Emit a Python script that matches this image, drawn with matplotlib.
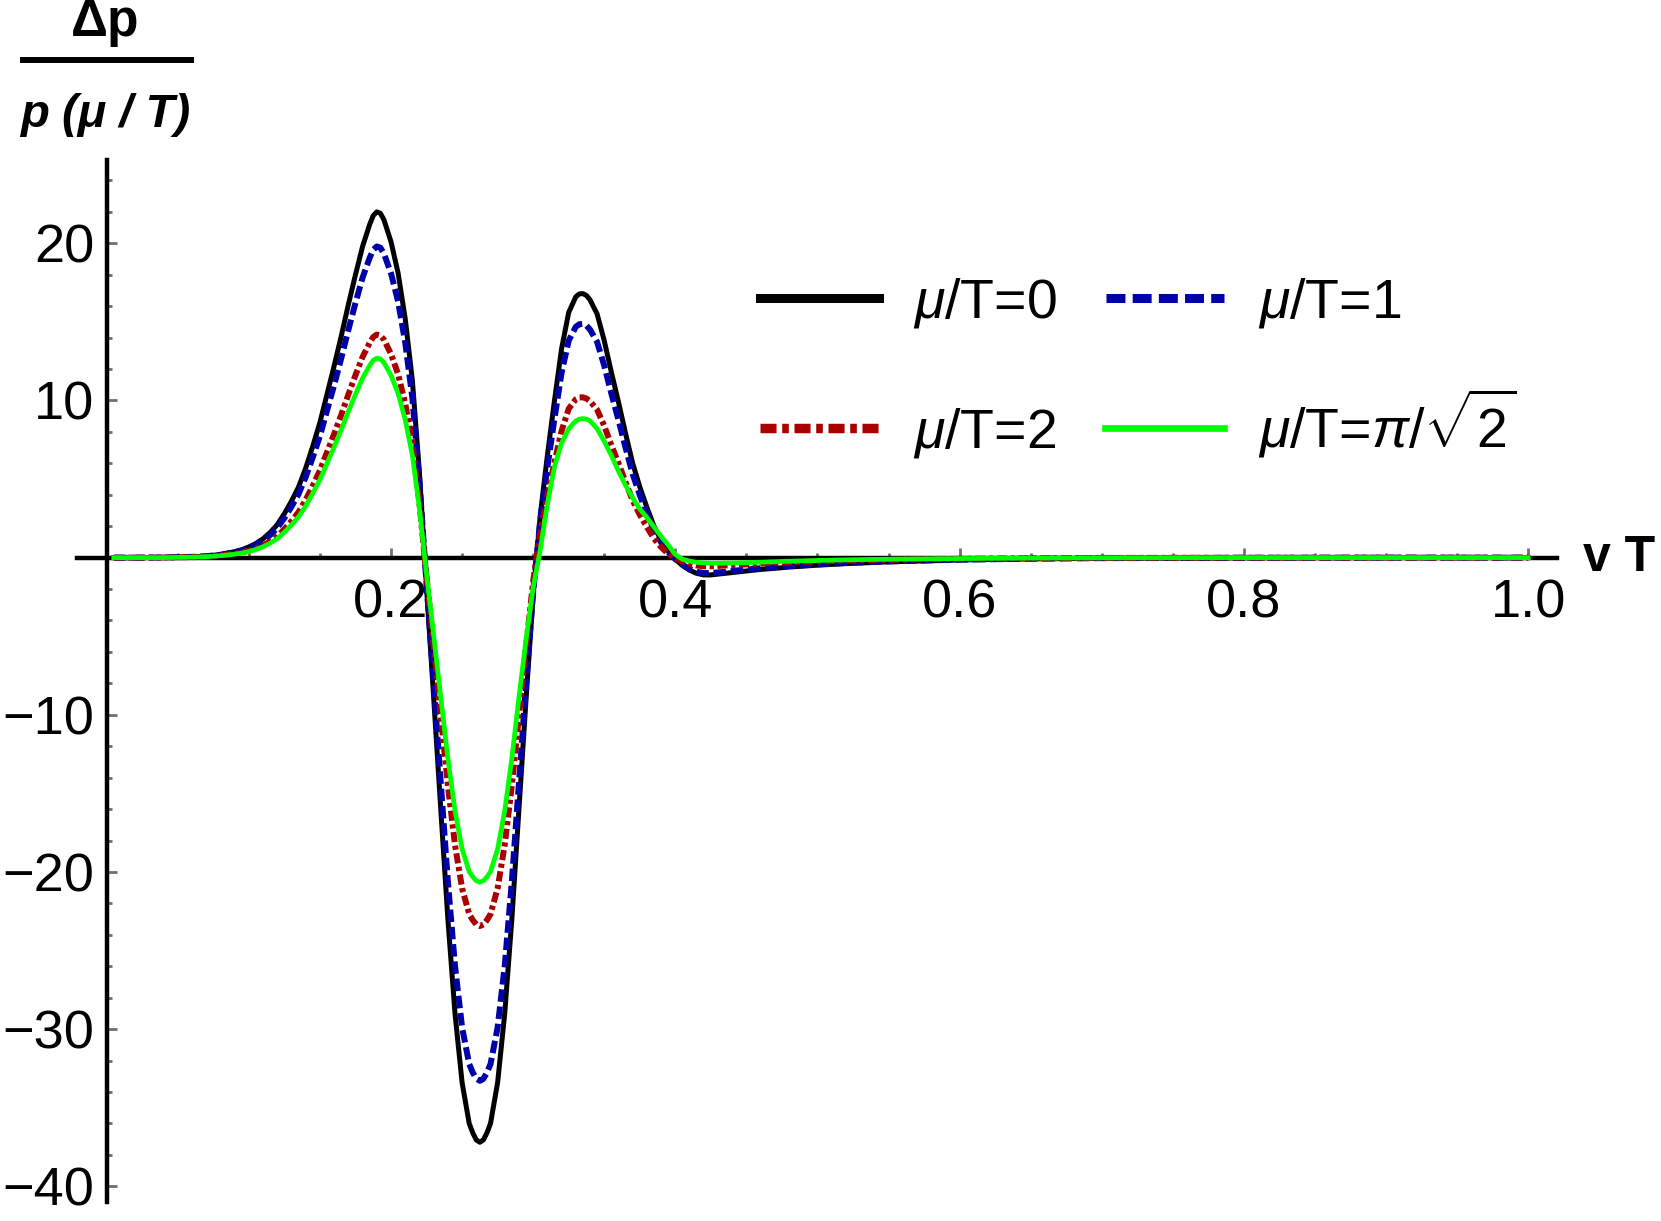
import matplotlib
matplotlib.use("Agg")
import matplotlib.pyplot as plt
from matplotlib.lines import Line2D
from matplotlib.ticker import FixedLocator, FixedFormatter

plt.rcParams['font.family'] = ['Liberation Sans', 'DejaVu Sans']
plt.rcParams['mathtext.fontset'] = 'custom'
plt.rcParams['mathtext.rm'] = 'Liberation Sans'
plt.rcParams['mathtext.it'] = 'Liberation Sans:italic'
plt.rcParams['mathtext.bf'] = 'Liberation Sans:bold'

# sample points along vT
vT = [0.005, 0.02, 0.04, 0.06, 0.07, 0.08, 0.09, 0.095,
      0.100, 0.105, 0.110, 0.115, 0.120, 0.125, 0.130, 0.135, 0.140, 0.145,
      0.150, 0.155, 0.160, 0.165, 0.170, 0.175, 0.180, 0.185, 0.1875, 0.190,
      0.1925, 0.195,
      0.200, 0.205, 0.210, 0.215, 0.220, 0.225, 0.230, 0.235, 0.240, 0.245,
      0.250, 0.255, 0.2575, 0.260, 0.2625, 0.265, 0.2675,
      0.270, 0.275, 0.280, 0.285, 0.290, 0.295, 0.300, 0.305, 0.310,
      0.315, 0.320, 0.325, 0.330, 0.3325, 0.335, 0.3375, 0.340, 0.345, 0.350,
      0.355, 0.360,
      0.365, 0.370, 0.375, 0.380, 0.385, 0.390, 0.395, 0.400, 0.405, 0.410,
      0.415, 0.420, 0.425, 0.430, 0.435, 0.440, 0.445, 0.450,
      0.46, 0.47, 0.48, 0.50, 0.52, 0.55, 0.60, 0.65, 0.70, 0.80, 0.90, 1.00]

dp_mu0 = [0.0, 0.0, 0.01, 0.05, 0.1, 0.2, 0.38, 0.5,
          0.68, 0.9, 1.2, 1.6, 2.1, 2.8, 3.6, 4.5, 5.7, 7.1, 8.6, 10.4, 12.2, 14.1, 16.1,
          18.0, 19.8, 21.2, 21.76, 22.0, 21.91, 21.5, 20.1, 18.1, 15.2, 11.3, 5.4,
          -1.9, -8.9, -16.0, -23.0, -29.0, -33.4, -36.0, -36.6, -37.05,
          -37.2,
          -37.05, -36.6, -36.0, -33.4, -29.0, -23.0, -16.0, -9.0, -2.4,
          2.7, 6.5, 10.0, 13.3, 15.6, 16.6, 16.78, 16.8, 16.68, 16.4, 15.5, 13.8, 11.8,
          9.9, 7.9, 6.0, 4.5, 3.2, 2.0, 1.1, 0.4,
          -0.1, -0.5, -0.8, -1.0, -1.1, -1.1, -1.05, -1.0, -0.95, -0.9, -0.85,
          -0.75, -0.68, -0.6, -0.48, -0.38, -0.27, -0.15, -0.08, -0.04, -0.01, 0.0, 0.0]

dp_mu1 = [0.0, 0.0, 0.01, 0.05, 0.09, 0.18, 0.34, 0.45,
          0.61, 0.81, 1.08, 1.44, 1.89, 2.52, 3.24, 4.05, 5.13, 6.39, 7.74, 9.36, 10.98,
          12.69, 14.49, 16.2, 17.82, 19.08, 19.58, 19.8, 19.72, 19.35, 18.09, 16.29,
          13.68, 10.17, 4.86,
          -1.70, -7.97, -14.32, -20.59, -25.96, -29.89, -32.22, -32.76, -33.16,
          -33.29,
          -33.16, -32.76, -32.22, -29.89, -25.96, -20.59, -14.32, -8.06, -2.15,
          2.39, 5.75, 8.85, 11.77, 13.81, 14.69, 14.85, 14.87, 14.76, 14.51, 13.72,
          12.21, 10.44, 8.76, 6.99, 5.31, 3.98, 2.83, 1.77, 0.97, 0.35,
          -0.1, -0.45, -0.72, -0.9, -0.98, -0.98, -0.94, -0.9, -0.85, -0.8, -0.76,
          -0.67, -0.6, -0.54, -0.43, -0.34, -0.24, -0.13, -0.07, -0.035, -0.01, 0.0, 0.0]

dp_mu2 = [0.0, 0.0, 0.01, 0.03, 0.06, 0.13, 0.25, 0.32,
          0.44, 0.58, 0.77, 1.03, 1.35, 1.81, 2.32, 2.90, 3.68, 4.58, 5.55, 6.71, 7.87,
          9.09, 10.38, 11.61, 12.77, 13.67, 14.04, 14.19, 14.13, 13.87, 12.96, 11.67,
          9.80, 7.29, 3.48,
          -1.20, -5.61, -10.08, -14.49, -18.27, -21.04, -22.68, -23.06, -23.34,
          -23.44,
          -23.34, -23.06, -22.68, -21.04, -18.27, -14.49, -10.08, -5.67, -1.51,
          1.64, 3.95, 6.07, 8.07, 9.47, 10.08, 10.19, 10.20, 10.12, 9.95, 9.41, 8.38,
          7.16, 6.01, 4.80, 3.64, 2.73, 1.94, 1.21, 0.67, 0.24,
          -0.05, -0.25, -0.4, -0.5, -0.55, -0.55, -0.53, -0.5, -0.48, -0.45, -0.43,
          -0.38, -0.34, -0.3, -0.24, -0.19, -0.14, -0.08, -0.04, -0.02, -0.005, 0.0, 0.0]

dp_mupi = [0.0, 0.0, 0.0, 0.03, 0.06, 0.12, 0.22, 0.29,
           0.39, 0.52, 0.69, 0.92, 1.21, 1.62, 2.08, 2.60, 3.29, 4.10, 4.96, 6.00, 7.04,
           8.14, 9.29, 10.39, 11.42, 12.23, 12.56, 12.69, 12.64, 12.41, 11.60, 10.44,
           8.77, 6.52, 3.12,
           -1.05, -4.94, -8.88, -12.77, -16.10, -18.54, -19.98, -20.31, -20.56,
           -20.65,
           -20.56, -20.31, -19.98, -18.54, -16.10, -12.77, -8.88, -5.2, -1.9,
           0.5, 3.4, 5.8, 7.3, 8.2, 8.7, 8.81, 8.85, 8.81, 8.7, 8.2, 7.4, 6.5, 5.5,
           4.6, 3.8, 3.1, 2.55, 1.95, 1.35, 0.8,
           0.2, -0.1, -0.22, -0.3, -0.34, -0.36, -0.36, -0.35, -0.34, -0.33, -0.32,
           -0.29, -0.26, -0.23, -0.18, -0.14, -0.1, -0.06, -0.03, -0.015, 0.0, 0.0, 0.0]

labels = [r'$\mu$/T=0', r'$\mu$/T=1', r'$\mu$/T=2', r'$\mu$/T=$\pi$/$\sqrt{2}$']
colors = ['black', '#0000aa', '#aa0000', '#00ff00']

x_major = [0.2, 0.4, 0.6, 0.8, 1.0]
x_major_labels = ['0.2', '0.4', '0.6', '0.8', '1.0']
x_minor = [0.05, 0.1, 0.15, 0.25, 0.3, 0.35, 0.45, 0.5, 0.55, 0.65, 0.7, 0.75,
           0.85, 0.9, 0.95]
y_major = [-40, -30, -20, -10, 10, 20]
y_major_labels = ['\u221240', '\u221230', '\u221220', '\u221210', '10', '20']
y_minor = [-38, -36, -34, -32, -28, -26, -24, -22, -18, -16, -14, -12,
           -8, -6, -4, -2, 2, 4, 6, 8, 12, 14, 16, 18, 22, 24]

W, H = 1661, 1221
fig = plt.figure(figsize=(W / 100, H / 100), dpi=100)
ax = fig.add_axes([76.7 / W, 1 - 1202 / H, 1480 / W, 1042 / H])

l0, = ax.plot(vT, dp_mu0, color=colors[0], lw=3.6, zorder=3,
              solid_joinstyle='round')
l1, = ax.plot(vT, dp_mu1, color=colors[1], lw=4.3, zorder=3,
              dashes=(2.1, 0.8))
l2, = ax.plot(vT, dp_mu2, color=colors[2], lw=4.3, zorder=3,
              dashes=(1.7, 0.6, 0.7, 0.6))
l3, = ax.plot(vT, dp_mupi, color=colors[3], lw=3.4, zorder=3,
              solid_joinstyle='round')

ax.set_xlim(-0.0211, 1.020)
ax.set_ylim(-41.0, 25.3)

for s in ['top', 'right']:
    ax.spines[s].set_visible(False)
ax.spines['left'].set_position(('data', 0))
ax.spines['bottom'].set_position(('data', 0))
for s in ['left', 'bottom']:
    ax.spines[s].set_linewidth(3.2)
    ax.spines[s].set_zorder(2)

ax.xaxis.set_major_locator(FixedLocator(x_major))
ax.xaxis.set_major_formatter(FixedFormatter(x_major_labels))
ax.xaxis.set_minor_locator(FixedLocator(x_minor))
ax.yaxis.set_major_locator(FixedLocator(y_major))
ax.yaxis.set_major_formatter(FixedFormatter(y_major_labels))
ax.yaxis.set_minor_locator(FixedLocator(y_minor))

ax.tick_params(which='both', direction='in', color='#707070')
ax.tick_params(which='major', length=7, width=2.0, labelsize=39)
ax.tick_params(which='minor', length=3.5, width=2.0)
ax.tick_params(axis='x', which='major', pad=15)
ax.tick_params(axis='y', which='major', pad=9)

# legend: one row per legend so both entries of a row share a baseline
leg_kw = dict(ncol=2, frameon=False, fontsize=40, loc='center left',
              bbox_transform=fig.transFigure, borderaxespad=0, borderpad=0,
              handlelength=2.14, handletextpad=0.61, columnspacing=0.88)
rows = [([l0, l1], [labels[0], labels[1]], 303, [6.5, 6.5]),
        ([l2, l3], [labels[2], labels[3]], 423, [6.8, 4.8])]
for hs, labs, ypix, widths in rows:
    leg = fig.legend(hs, labs, bbox_to_anchor=(760 / W, 1 - ypix / H), **leg_kw)
    for ln, w in zip(leg.get_lines(), widths):
        ln.set_linewidth(w)

fig.text(1583 / W, 1 - 558 / H, 'v T', ha='left', va='center',
         fontsize=36, fontweight='bold')

fig.text(105 / W, 1 - 36 / H, '\u0394p', ha='center', va='baseline',
         fontsize=37, fontweight='bold')
fig.add_artist(Line2D([23 / W, 191 / W], [1 - 60 / H, 1 - 60 / H],
                      color='black', lw=4.3, transform=fig.transFigure))
fig.text(105 / W, 1 - 127 / H, 'p (\u03bc / T)', ha='center', va='baseline',
         fontsize=34, fontweight='bold', fontstyle='italic')

fig.savefig('out.png', dpi=100, facecolor='white')
